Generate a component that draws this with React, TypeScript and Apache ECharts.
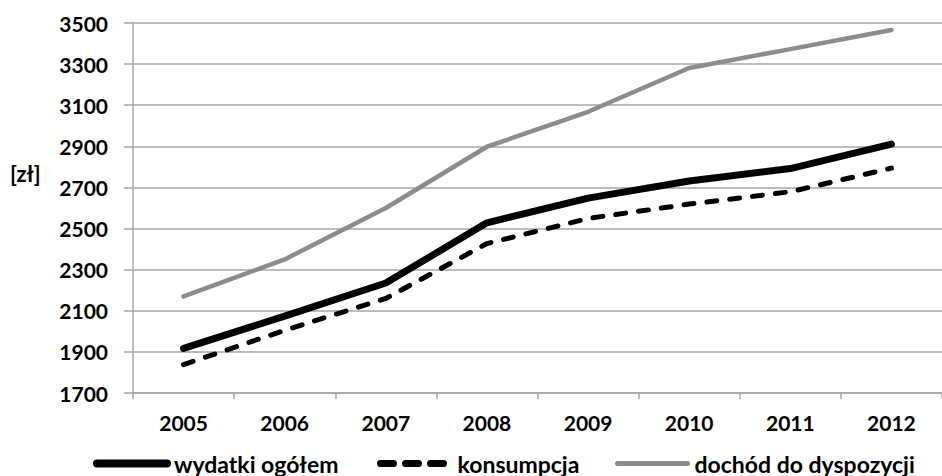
import React, { useEffect, useRef } from "react";
import * as echarts from "echarts";

const years = ["2005", "2006", "2007", "2008", "2009", "2010", "2011", "2012"];
const wydatki = [1917, 2074, 2235, 2528, 2648, 2731, 2792, 2911];
const konsumpcja = [1838, 2005, 2160, 2427, 2549, 2619, 2679, 2794];
const dochod = [2170, 2350, 2600, 2898, 3068, 3281, 3373, 3466];
const seriesNames = ["wydatki ogółem", "konsumpcja", "dochód do dyspozycji"];

const FONT = "Lato";

export default function App() {
  const ref = useRef<HTMLDivElement>(null);
  useEffect(() => {
    if (!ref.current) return;
    const chart = echarts.init(ref.current, null, { renderer: "svg" });
    const legendBase = {
      top: 452,
      itemWidth: 70,
      itemHeight: 12,
      itemGap: 30,
      padding: 0,
      itemStyle: { opacity: 0 },
      textStyle: { fontFamily: FONT, fontSize: 23, fontWeight: "bold", color: "#000", padding: [0, 0, 0, 2] },
    };
    chart.setOption({
      animation: false,
      backgroundColor: "#ffffff",
      textStyle: { fontFamily: FONT },
      grid: { left: 133, right: -11, top: 23, bottom: 83 },
      legend: [
        {
          ...legendBase,
          left: 93,
          data: [{ name: seriesNames[0], lineStyle: { width: 8, cap: "round" } }],
        },
        {
          ...legendBase,
          left: 377,
          data: [{ name: seriesNames[1], lineStyle: { width: 7, type: [13, 12], cap: "round" } }],
        },
        {
          ...legendBase,
          left: 615,
          data: [{ name: seriesNames[2], lineStyle: { width: 5, cap: "round" } }],
        },
      ],
      graphic: [
        {
          type: "text",
          left: 10,
          top: 162,
          style: { text: "[zł]", font: `bold 22px ${FONT}`, fill: "#000" },
        },
      ],
      xAxis: {
        type: "category",
        data: years,
        boundaryGap: true,
        axisLine: { lineStyle: { color: "#a6a6a6", width: 1.5 } },
        axisTick: { show: true, length: 6, lineStyle: { color: "#a6a6a6", width: 1.5 } },
        axisLabel: { color: "#000", fontSize: 21, fontWeight: "bold", fontFamily: FONT, margin: 19 },
      },
      yAxis: {
        type: "value",
        min: 1700,
        max: 3500,
        interval: 200,
        axisLine: { show: true, lineStyle: { color: "#a6a6a6", width: 1.5 } },
        axisTick: { show: true, length: 9, lineStyle: { color: "#a6a6a6", width: 1.5 } },
        axisLabel: {
          color: "#000",
          fontSize: 21,
          fontWeight: "bold",
          fontFamily: FONT,
          margin: 25,
          formatter: (v: number) => String(v),
        },
        splitLine: { show: true, lineStyle: { color: "#a6a6a6", width: 1.5 } },
      },
      series: [
        {
          name: seriesNames[2],
          type: "line",
          data: dochod,
          symbol: "none",
          z: 2,
          lineStyle: { color: "#8c8c8c", width: 4.5, cap: "round", join: "round" },
          itemStyle: { color: "#8c8c8c" },
        },
        {
          name: seriesNames[1],
          type: "line",
          data: konsumpcja,
          symbol: "none",
          z: 3,
          lineStyle: { color: "#000", width: 5, type: [10, 13], cap: "round", join: "round" },
          itemStyle: { color: "#000" },
        },
        {
          name: seriesNames[0],
          type: "line",
          data: wydatki,
          symbol: "none",
          z: 4,
          lineStyle: { color: "#000", width: 7, cap: "round", join: "round" },
          itemStyle: { color: "#000" },
        },
      ],
    });
    return () => chart.dispose();
  }, []);
  return (
    <div
      ref={ref}
      style={{ position: "fixed", left: 0, top: 0, width: 942, height: 476 }}
    />
  );
}
